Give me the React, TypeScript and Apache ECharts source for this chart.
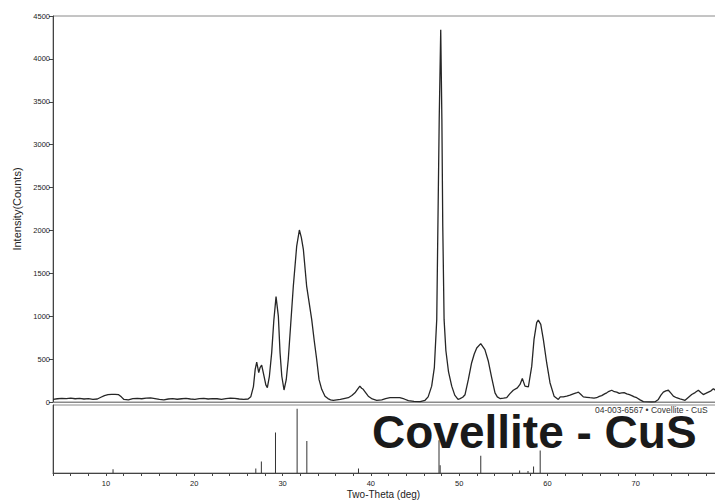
import React, { useEffect, useRef } from "react";
import * as echarts from "echarts";

// Measured diffraction pattern (2θ in degrees, intensity in counts)
const twoTheta = [
  4.0, 4.5, 5.0, 5.5, 6.0, 6.5, 7.0, 7.5, 8.0, 8.5, 9.0, 9.4, 9.8, 10.2, 10.6, 11.0, 11.4, 11.7,
  12.0, 12.5, 13.0, 13.5, 14.0, 14.5, 15.0, 15.5, 16.0, 16.5, 17.0, 17.5, 18.0, 18.5, 19.0, 19.5,
  20.0, 20.5, 21.0, 21.5, 22.0, 22.5, 23.0, 23.5, 24.0, 24.5, 25.0, 25.5, 26.0, 26.3, 26.6, 26.8,
  26.97, 27.2, 27.35, 27.53, 27.8, 28.0, 28.17, 28.4, 28.66, 28.9, 29.15, 29.41, 29.6, 29.8, 30.05,
  30.3, 30.53, 30.8, 31.1, 31.48, 31.78, 32.0, 32.23, 32.6, 33.17, 33.45, 33.73, 34.0, 34.3, 34.67,
  35.0, 35.3, 35.6, 36.0, 36.4, 36.8, 37.3, 37.7, 38.05, 38.35, 38.6, 38.8, 38.98, 39.25, 39.55,
  40.0, 40.5, 41.07, 41.5, 42.0, 42.5, 43.1, 43.6, 44.07, 44.7, 45.4, 45.95, 46.3, 46.7, 47.0,
  47.27, 47.4, 47.55, 47.72, 47.85, 47.95, 48.1, 48.3, 48.6, 48.96, 49.3, 49.67, 49.9, 50.2, 50.46,
  50.83, 51.2, 51.5, 51.78, 52.23, 52.7, 53.09, 53.47, 53.84, 54.1, 54.4, 54.8, 55.16, 55.5, 55.9,
  56.36, 56.66, 56.92, 57.22, 57.6, 57.98, 58.24, 58.54, 58.72, 59.0, 59.29, 59.67, 60.04, 60.5,
  60.98, 61.2, 61.54, 61.93, 62.3, 62.67, 63.0, 63.24, 63.5, 63.8, 64.2, 64.55, 65.0, 65.3, 65.6,
  65.87, 66.2, 66.44, 66.7, 67.0, 67.3, 67.57, 67.85, 68.13, 68.4, 68.7, 69.0, 69.26, 69.55, 69.82,
  70.2, 70.57, 71.0, 71.5, 71.9, 72.26, 72.55, 72.82, 73.1, 73.39, 73.7, 73.95, 74.3, 74.7, 75.0,
  75.27, 75.6, 76.02, 76.4, 76.77, 77.05, 77.33, 77.6, 77.9, 78.2, 78.46, 78.8, 79.2, 79.6, 80.0,
];
const intensity = [
  30, 38, 42, 40, 45, 38, 42, 35, 40, 30, 35, 55, 75, 85, 88, 90, 85, 60,
  30, 25, 40, 42, 38, 45, 48, 40, 30, 25, 35, 40, 32, 38, 42, 35,
  30, 40, 42, 35, 40, 38, 30, 40, 45, 42, 35, 30, 35, 60, 180, 380,
  466, 343, 400, 431, 300, 200, 168, 300, 576, 950, 1228, 1002, 576, 300, 140,
  260, 498, 900, 1352, 1818, 2005, 1920, 1780, 1352, 964, 720, 498, 260, 148, 68,
  40, 25, 20, 25, 30, 40, 50, 75, 107, 150, 185, 160, 148, 110, 68,
  35, 20, 25, 40, 50, 52, 50, 35, 15, 8, 5, 20, 60, 185, 400,
  960, 2050, 3300, 4341, 3300, 2050, 960, 600, 350, 185, 80, 30, 40, 55, 85,
  260, 455, 560, 630, 680, 610, 475, 280, 107, 60, 40, 45, 50, 95, 137,
  165, 205, 275, 185, 175, 415, 730, 925, 955, 905, 730, 455, 225, 68,
  30, 60, 60, 68, 80, 95, 105, 115, 90, 60, 55, 50, 45, 50, 65,
  75, 95, 107, 125, 137, 120, 115, 100, 107, 110, 95, 85, 75, 60, 50,
  25, 5, 2, 0, 2, 30, 80, 115, 130, 137, 100, 68, 50, 37, 28,
  20, 50, 87, 110, 137, 110, 87, 100, 115, 130, 155, 130, 110, 100, 90,
];

// Reference card sticks (2θ, relative intensity %)
const stickTwoTheta = [10.8, 26.97, 27.6, 29.2, 31.65, 32.75, 38.6, 47.72, 47.85, 52.45, 56.85, 57.8, 58.43, 59.18];
const stickRelInt = [6, 7, 18, 63, 100, 50, 7, 51, 12, 27, 4, 3, 10, 35];

const xLabelValues = [10, 20, 30, 40, 50, 60, 70];

const yAxisTitle = "Intensity(Counts)";
const xAxisTitle = "Two-Theta (deg)";
const phaseTitle = "Covellite - CuS";
const cardLabel = "04-003-6567 • Covellite - CuS";

const FONT = "'Liberation Sans', Arial, sans-serif";

export default function App() {
  const ref = useRef<HTMLDivElement>(null);

  useEffect(() => {
    if (!ref.current) return;
    const chart = echarts.init(ref.current, null, { renderer: "svg" });
    const lineData = twoTheta.map((t, i) => [t, intensity[i]]);
    const stickData = stickTwoTheta.map((t, i) => [t, stickRelInt[i]]);

    chart.setOption({
      animation: false,
      backgroundColor: "#ffffff",
      textStyle: { fontFamily: FONT },
      grid: [
        { left: 53, top: 16, right: 0, height: 386, show: true, borderColor: "#8a8a8a", borderWidth: 1 },
        { left: 53, top: 405, right: 0, height: 68, show: true, borderColor: "#8a8a8a", borderWidth: 1 },
      ],
      xAxis: [
        {
          type: "value",
          gridIndex: 0,
          min: 4,
          max: 80,
          interval: 2,
          axisLine: { show: true, lineStyle: { color: "#8a8a8a", width: 1 } },
          axisTick: { show: false },
          axisLabel: { show: false },
          splitLine: { show: false },
        },
        {
          type: "value",
          gridIndex: 1,
          min: 4,
          max: 80,
          interval: 2,
          name: xAxisTitle,
          nameLocation: "middle",
          nameGap: 16,
          nameTextStyle: { fontSize: 10, color: "#222", fontFamily: FONT, padding: [0, 10, 0, 0] },
          axisLine: { show: true, lineStyle: { color: "#444", width: 1 } },
          axisTick: { show: true, length: 3, lineStyle: { color: "#444" } },
          axisLabel: {
            fontSize: 7.5,
            color: "#222",
            margin: 6,
            fontFamily: FONT,
            formatter: (v: number) => (xLabelValues.indexOf(v) >= 0 ? String(v) : ""),
          },
          splitLine: { show: false },
        },
      ],
      yAxis: [
        {
          type: "value",
          gridIndex: 0,
          min: 0,
          max: 4500,
          interval: 500,
          name: yAxisTitle,
          nameLocation: "middle",
          nameGap: 29,
          nameTextStyle: { fontSize: 11, color: "#222", fontFamily: FONT },
          axisLine: { show: true, lineStyle: { color: "#444", width: 1 } },
          axisTick: { show: true, length: 4, lineStyle: { color: "#444" } },
          axisLabel: {
            fontSize: 7.5,
            color: "#222",
            margin: 3,
            fontFamily: FONT,
            formatter: (v: number) => String(v),
          },
          splitLine: { show: false },
        },
        {
          type: "value",
          gridIndex: 1,
          min: 0,
          max: 106,
          axisLine: { show: true, lineStyle: { color: "#444", width: 1 } },
          axisTick: { show: false },
          axisLabel: { show: false },
          splitLine: { show: false },
        },
      ],
      series: [
        {
          type: "line",
          xAxisIndex: 0,
          yAxisIndex: 0,
          data: lineData,
          showSymbol: false,
          symbol: "none",
          lineStyle: { color: "#262626", width: 1.3 },
        },
        {
          type: "bar",
          xAxisIndex: 1,
          yAxisIndex: 1,
          data: stickData,
          barWidth: 1,
          itemStyle: { color: "#333" },
        },
      ],
      graphic: [
        {
          type: "text",
          x: 372,
          y: 432,
          z: 100,
          style: {
            text: phaseTitle,
            font: `bold 46px ${FONT}`,
            lineHeight: 34,
            verticalAlign: "middle",
            align: "left",
            fill: "#1a1a1a",
          },
        },
        {
          type: "text",
          x: 595,
          y: 409.5,
          z: 100,
          style: {
            text: cardLabel,
            font: `8.5px ${FONT}`,
            lineHeight: 7,
            verticalAlign: "middle",
            align: "left",
            fill: "#333",
          },
        },
      ],
    });

    return () => chart.dispose();
  }, []);

  return (
    <div
      style={{ position: "absolute", left: 0, top: 0, width: 715, height: 502, overflow: "hidden", background: "#fff" }}
    >
      <div ref={ref} style={{ width: 727, height: 502 }} />
    </div>
  );
}
